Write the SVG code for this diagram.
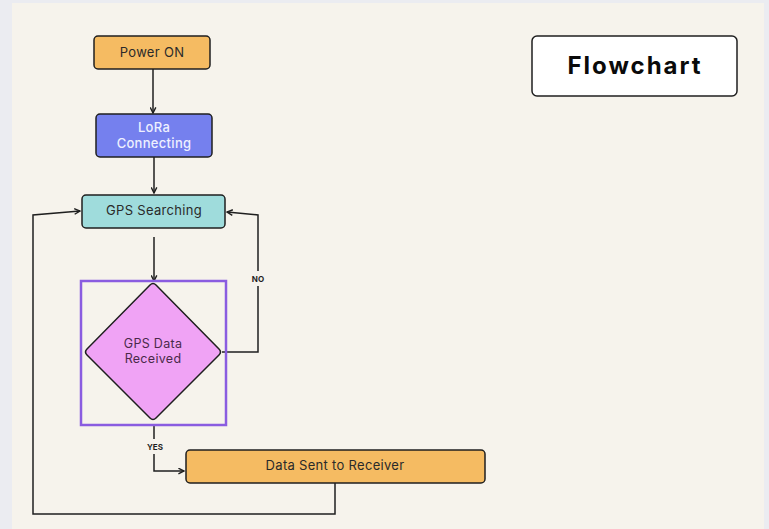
<svg xmlns="http://www.w3.org/2000/svg" width="769" height="529" viewBox="0 0 769 529">
<defs>
<style>
.node{stroke:#1f1f1f;stroke-width:1.5}
.t{font-family:Inter,"Noto Sans","Liberation Sans",sans-serif;font-size:13px;fill:#2a2a2a;text-anchor:middle;letter-spacing:0.3px}
.c{fill:none;stroke:#1f1f1f;stroke-width:1.5}
.lbl{font-family:Inter,"Liberation Sans",sans-serif;font-size:8px;font-weight:700;fill:#1f1f1f;text-anchor:middle}
</style>
<marker id="ah" viewBox="0 0 10 10" refX="9" refY="5" markerWidth="7" markerHeight="7" markerUnits="userSpaceOnUse" orient="auto">
<path d="M1,1 L9,5 L1,9" fill="none" stroke="#1f1f1f" stroke-width="2"/>
</marker>
</defs>
<rect x="0" y="0" width="769" height="529" fill="#ebecf1"/>
<rect x="12" y="3" width="752" height="526" fill="#f6f3ec"/>
<g id="connectors">
<path class="c" d="M153,69 V113" marker-end="url(#ah)"/>
<path class="c" d="M154,150 V193" marker-end="url(#ah)"/>
<path class="c" d="M154,237 V281" marker-end="url(#ah)"/>
<path class="c" d="M222,352 H258 V286"/>
<path class="c" d="M258,271 V215 L227,212" marker-end="url(#ah)"/>
<path class="c" d="M154,425 V439"/>
<path class="c" d="M154,454 V471 H184" marker-end="url(#ah)"/>
<path class="c" d="M335,483 V514 H33 V215 L80,211" marker-end="url(#ah)"/>
<text class="lbl" x="258" y="282">NO</text>
<text class="lbl" x="155" y="450">YES</text>
</g>
<g id="power-on">
<rect class="node" x="94" y="36" width="116" height="33" rx="4" fill="#f5bb62"/>
<text class="t" x="152" y="57">Power ON</text>
</g>
<g id="lora">
<rect class="node" x="96" y="114" width="116" height="43" rx="4" fill="#7580ee"/>
<text class="t" x="154" y="132" style="fill:#eef0ff;font-weight:500">LoRa</text>
<text class="t" x="154" y="148" style="fill:#eef0ff;font-weight:500">Connecting</text>
</g>
<g id="gps-searching">
<rect class="node" x="82" y="195" width="143" height="33" rx="4" fill="#9fdcdc"/>
<text class="t" x="154" y="215">GPS Searching</text>
</g>
<g id="gps-data">
<rect x="81" y="281" width="145" height="144" fill="none" stroke="#8a5ce0" stroke-width="2.5"/>
<path class="node" d="M150,285 Q153,282 156,285 L219,349 Q222,352 219,355 L156,418 Q153,421 150,418 L87,355 Q84,352 87,349 Z" fill="#f0a3f5"/>
<text class="t" x="153" y="348" style="fill:#4a2a4a;font-size:12.5px">GPS Data</text>
<text class="t" x="153" y="363" style="fill:#4a2a4a;font-size:12.5px">Received</text>
</g>
<g id="data-sent">
<rect class="node" x="186" y="450" width="299" height="33" rx="4" fill="#f5bb62"/>
<text class="t" x="335" y="470">Data Sent to Receiver</text>
</g>
<g id="title">
<rect x="532" y="36" width="205" height="60" rx="5" fill="#ffffff" stroke="#1f1f1f" stroke-width="1.5"/>
<text x="635" y="74" style="font-family:Inter,'Liberation Sans',sans-serif;font-size:24px;font-weight:700;fill:#0a0a0a;text-anchor:middle;letter-spacing:2px">Flowchart</text>
</g>
</svg>
